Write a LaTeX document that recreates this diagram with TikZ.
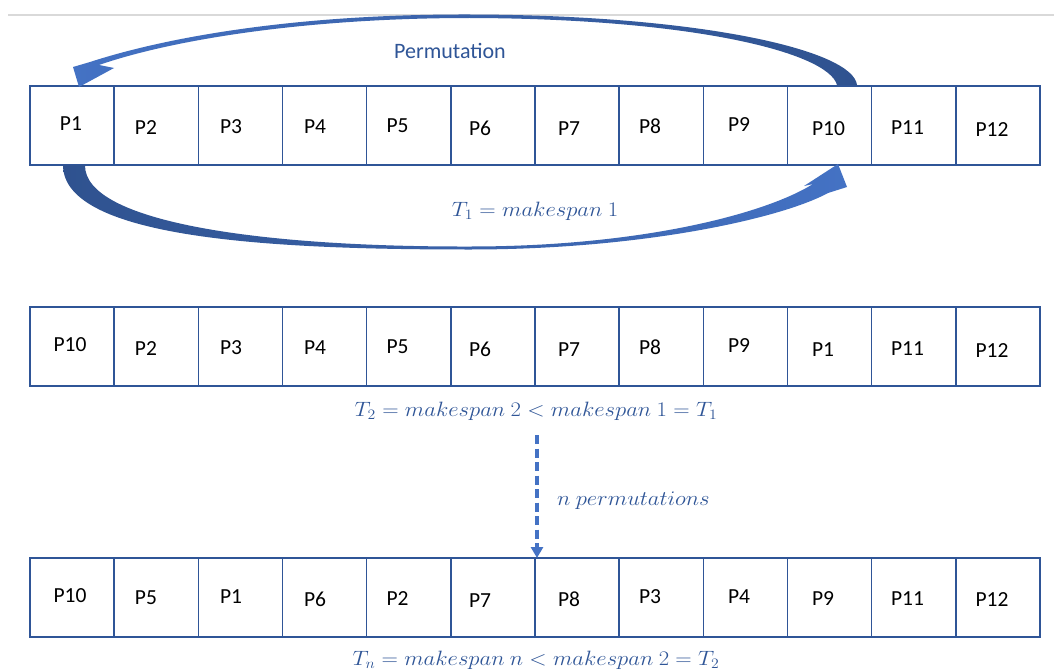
\documentclass[tikz,border=0pt]{standalone}
\usepackage{fontspec}
\setmainfont{Carlito}
\usetikzlibrary{arrows.meta}
\definecolor{boxblue}{HTML}{2F5597}
\definecolor{lightblue}{HTML}{4472C4}
\definecolor{darkblue}{HTML}{2F528F}
\definecolor{rulegray}{HTML}{D9D9D9}
% slightly widened math for the formula labels
\newcommand\widemath[1]{\scalebox{1.095}[1]{$#1$}}

\begin{document}
\begin{tikzpicture}[x=1pt,y=-1pt,
  cell/.style={draw=boxblue, line width=1.4pt, fill=white,
    minimum width=84.17pt, minimum height=79pt, inner sep=0pt, outer sep=0pt},
  plabel/.style={font=\fontsize{21.5}{24}\selectfont, text=black, inner sep=0pt},
  blabel/.style={font=\fontsize{22}{26}\selectfont, text=boxblue, inner sep=0pt},
  mlabel/.style={font=\fontsize{21.5}{25}\selectfont, text=boxblue, inner sep=0pt, anchor=base},
  dashedarrow/.style={draw=lightblue, line width=3.5pt, dash pattern=on 9pt off 4.5pt,
    -{Triangle[length=11pt,width=12pt]}}]

% canvas
\clip (0,0) rectangle (1054,669);
\fill[white] (0,0) rectangle (1054,669);
\draw[rulegray, line width=2pt] (8,15) -- (1054,15);

% three rows of twelve cells
\foreach \r/\yc in {1/125.5, 2/346.5, 3/597.5}
  \foreach \c in {1,...,12}
    \node[cell] (r\r c\c) at ({30+84.1667*(\c-0.5)}, \yc) {};

% cell labels
\foreach \t/\x/\dy [count=\c] in {P1/71/-1.5, P2/146/2, P3/231/1.5, P4/315/1.5,
    P5/397.5/0.5, P6/480/2.5, P7/569/3, P8/650/0.5, P9/739/-0.5, P10/828.5/3,
    P11/907.5/2, P12/992/4}
  \node[plabel] (a\c) at (\x, 125.5+\dy) {\t};
\foreach \t/\x/\dy [count=\c] in {P10/70/-1.5, P2/146/2, P3/231/1.5, P4/315/1.5,
    P5/397.5/0.5, P6/480/2.5, P7/569/3, P8/650/0.5, P9/739/-0.5, P1/823/3,
    P11/907.5/2, P12/992/4}
  \node[plabel] (b\c) at (\x, 346.5+\dy) {\t};
\foreach \t/\x/\dy [count=\c] in {P10/70/-1.5, P5/146/0, P1/231/-0.5, P6/315/1.5,
    P2/397.5/1.5, P7/480/3.5, P8/569/1.5, P3/650/-0.5, P4/739/-0.5, P9/823/1.5,
    P11/907.5/1.5, P12/992/2}
  \node[plabel] (c\c) at (\x, 597.5+\dy) {\t};

% upper curved arrow: from the top of P10 back over to P1
\shade[left color=lightblue, right color=darkblue]
  (857,85) .. controls (853,50) and (700,15) .. (470,14.5)
  .. controls (300,14) and (170,36) .. (90,62)
  -- (73,67) -- (79,87) -- (114,68) -- (99,65)
  .. controls (168,41) and (300,18) .. (470,18)
  .. controls (690,18.5) and (828,52) .. (837,85) -- cycle;

% lower curved arrow: from the bottom of P1 round to P10
\shade[left color=darkblue, right color=lightblue]
  (85,165) .. controls (84,222) and (260,247) .. (470,246.5)
  .. controls (640,246.5) and (765,214) .. (813,184)
  -- (804,186) -- (838,164) -- (847,187) -- (828,193)
  .. controls (780,219) and (640,249.5) .. (470,249.5)
  .. controls (280,249.5) and (63,240) .. (63,165) -- cycle;

% texts
\node[blabel] (perm) at (450,51) {Permutation};
\node[mlabel] (t1) at (535,216) {\widemath{T_1 = makespan\ 1}};
\node[mlabel] (t2) at (536,416) {\widemath{T_2 = makespan\ 2 < makespan\ 1 = T_1}};
\node[mlabel, anchor=base west] (np) at (557,505) {\widemath{n\ permutations}};
\node[mlabel] (tn) at (536,665) {\widemath{T_n = makespan\ n < makespan\ 2 = T_2}};

% dashed arrow down to the last row
\coordinate (dstart) at (537,435);
\draw[dashedarrow] (dstart) -- (dstart |- r3c7.north);

\end{tikzpicture}
\end{document}
